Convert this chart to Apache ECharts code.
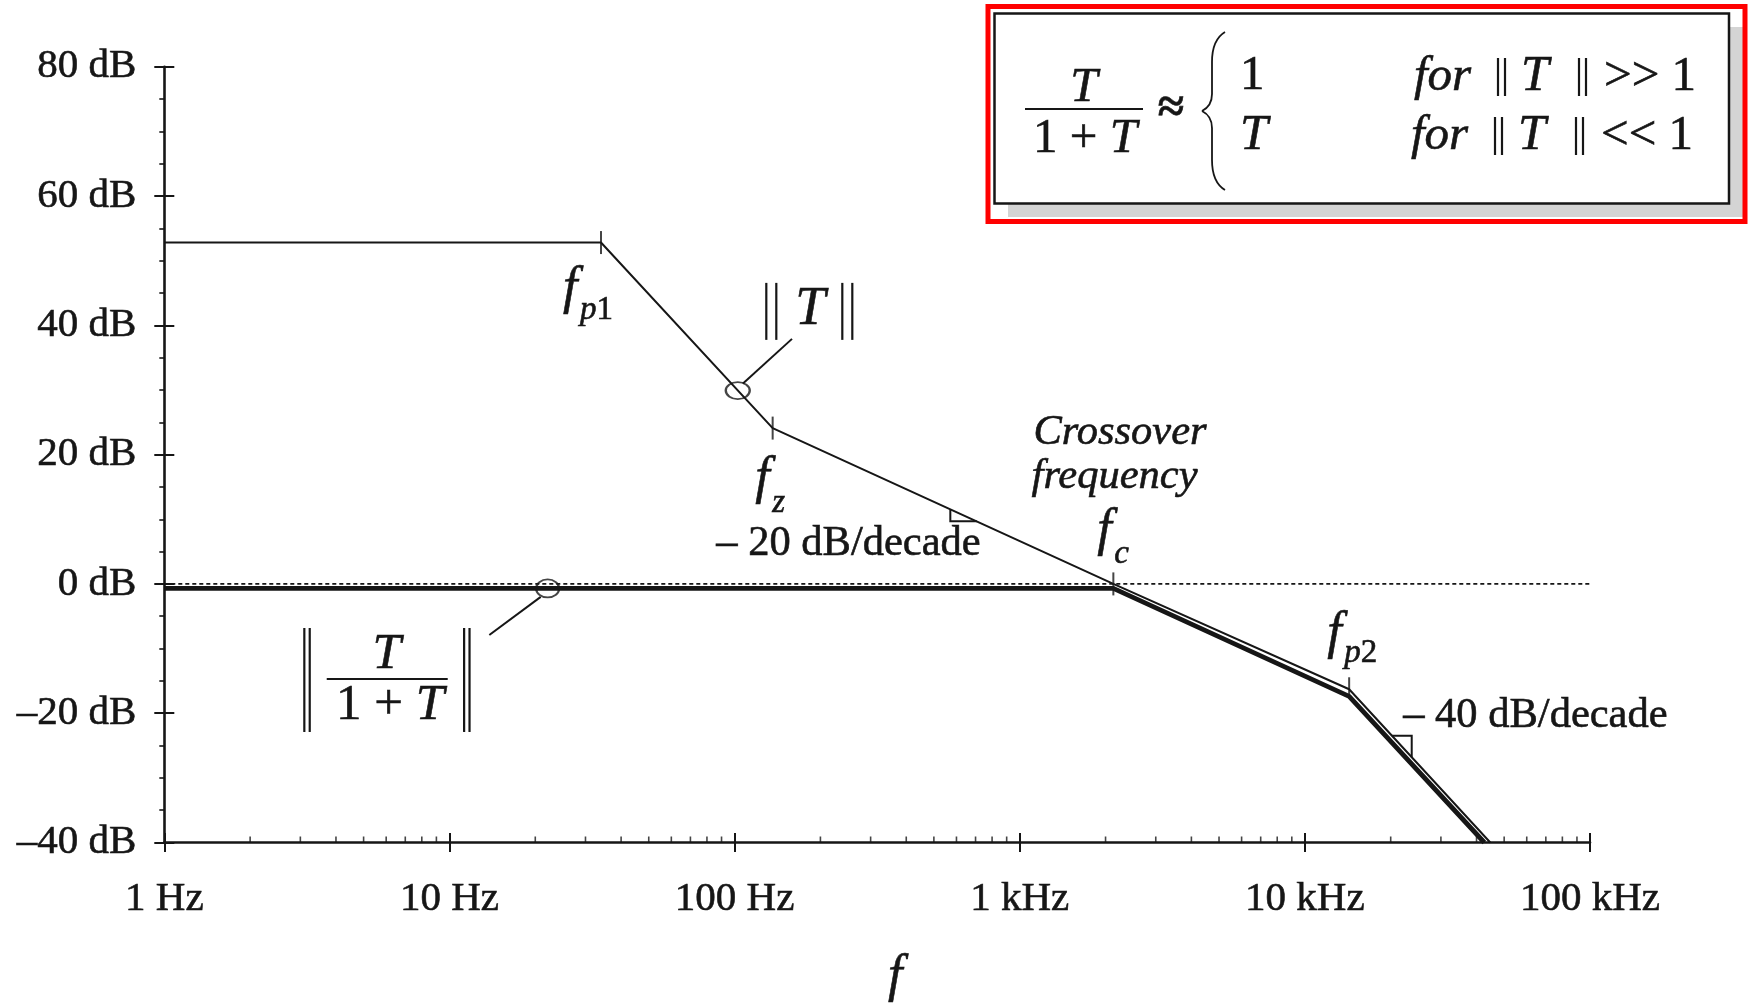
<!DOCTYPE html>
<html>
<head>
<meta charset="utf-8">
<script src="https://cdn.jsdelivr.net/npm/echarts@6/dist/echarts.min.js"></script>
<style>
  html, body { margin: 0; padding: 0; background: #fff; overflow: hidden; }
  #chart { width: 1748px; height: 1003px; }
</style>
</head>
<body>
<div id="chart"></div>
<script>
// Loop gain ||T|| asymptotes (thin line): frequency in Hz, magnitude in dB
const loopFreq = [1, 34, 136, 2130, 14300, 44700];
const loopGain = [52.8, 52.8, 24.1, 0, -16.3, -40];

// Closed-loop ||T/(1+T)|| asymptotes (heavy line)
const closedFreq = [1, 2130, 14300, 42600];
const closedGain = [-0.7, -0.7, -17.4, -40];

// Unity (0 dB) reference line
const unityFreq = [1, 100000];
const unityGain = [0, 0];

// Corner frequencies fp1, fz, fc, fp2 marked with a short tick on ||T||
const cornerFreq = [34, 136, 2130, 14300];
const cornerGain = [52.8, 24.1, 0, -16.3];

// Ellipse callouts on each curve and their leader lines
const loopCalloutFreq = [102.6];
const loopCalloutGain = [29.9];
const loopLeaderFreq = [107, 159];
const loopLeaderGain = [31.0, 37.9];
const closedCalloutFreq = [22.1];
const closedCalloutGain = [-0.7];
const closedLeaderFreq = [20.9, 13.8];
const closedLeaderGain = [-2.0, -7.9];

// Slope indicators
const slope20Freq = [571, 571, 707];
const slope20Gain = [11.5, 9.7, 9.7];
const slope40Freq = [20200, 23700, 23700];
const slope40Gain = [-23.5, -23.5, -26.8];

// Axis tick labels
const freqTickLabels = ['1 Hz', '10 Hz', '100 Hz', '1 kHz', '10 kHz', '100 kHz'];
const gainTicks = [-40, -20, 0, 20, 40, 60, 80];
const gainTickLabels = ['\u201340 dB', '\u201320 dB', '0 dB', '20 dB', '40 dB', '60 dB', '80 dB'];

const FONT = '"Liberation Serif", "Times New Roman", "DejaVu Serif", serif';
const INK = '#161616';
const EMBOLDEN = 0.6;
const pts = (fs, gs) => fs.map((f, i) => [f, gs[i]]);

// Minor log ticks at 2..9 within each decade
const minorFreq = [];
[1, 10, 100, 1000, 10000].forEach(d => { for (let k = 2; k <= 9; k++) minorFreq.push(d * k); });

const chart = echarts.init(document.getElementById('chart'), null, { renderer: 'canvas' });

const baseX = {
  type: 'log', logBase: 10, min: 1, max: 100000, position: 'bottom', offset: 0,
  splitLine: { show: false }, minorSplitLine: { show: false }
};
const baseY = {
  type: 'value', min: -40, max: 80, interval: 20, position: 'left', offset: 0,
  splitLine: { show: false }, minorSplitLine: { show: false }
};
const lineSeries = (data, width, extra) => Object.assign({
  type: 'line', data, symbol: 'none', showSymbol: false, silent: true, clip: false,
  xAxisIndex: 0, yAxisIndex: 0,
  lineStyle: { color: INK, width }
}, extra || {});

const option = {
  animation: false,
  backgroundColor: '#ffffff',
  grid: { left: 164.3, right: 158, top: 66.7, bottom: 160.5, outerBoundsMode: 'none', containLabel: false },
  xAxis: [
    Object.assign({}, baseX, {
      axisLine: { show: true, onZero: false, lineStyle: { color: INK, width: 2.6 } },
      axisTick: { show: true, inside: false, length: 9.5, lineStyle: { color: INK, width: 2 } },
      axisLabel: {
        show: true, margin: 36, fontFamily: FONT, fontSize: 41, color: INK,
        textBorderColor: INK, textBorderWidth: EMBOLDEN,
        formatter: v => freqTickLabels[Math.round(Math.log10(v))]
      }
    }),
    Object.assign({}, baseX, {
      axisLine: { show: false, onZero: false },
      axisTick: { show: true, inside: true, length: 9.5, lineStyle: { color: INK, width: 2 } },
      axisLabel: { show: false }
    })
  ],
  yAxis: [
    Object.assign({}, baseY, {
      axisLine: { show: true, onZero: false, lineStyle: { color: INK, width: 2.6 } },
      axisTick: { show: true, inside: false, length: 10, lineStyle: { color: INK, width: 2 } },
      minorTick: { show: true, splitNumber: 4, length: 5, lineStyle: { color: INK, width: 1.6 } },
      axisLabel: {
        show: true, margin: 28, fontFamily: FONT, fontSize: 41, color: INK,
        textBorderColor: INK, textBorderWidth: EMBOLDEN,
        formatter: v => gainTickLabels[gainTicks.indexOf(v)]
      }
    }),
    Object.assign({}, baseY, {
      axisLine: { show: false, onZero: false },
      axisTick: { show: true, inside: true, length: 10, lineStyle: { color: INK, width: 2 } },
      axisLabel: { show: false }
    })
  ],
  series: [
    lineSeries(pts(unityFreq, unityGain), 1.6, { lineStyle: { color: INK, width: 1.6, type: [4, 3] } }),
    lineSeries(pts(closedFreq, closedGain), 4.8),
    lineSeries(pts(loopFreq, loopGain), 2),
    lineSeries(pts(loopLeaderFreq, loopLeaderGain), 2),
    lineSeries(pts(closedLeaderFreq, closedLeaderGain), 2),
    lineSeries(pts(slope20Freq, slope20Gain), 2, { lineStyle: { color: INK, width: 2, join: 'miter' } }),
    lineSeries(pts(slope40Freq, slope40Gain), 2, { lineStyle: { color: INK, width: 2, join: 'miter' } }),
    {
      // corner-frequency ticks
      type: 'scatter', silent: true, clip: false, xAxisIndex: 0, yAxisIndex: 0,
      symbol: 'rect', symbolSize: [2, 23], itemStyle: { color: INK },
      data: pts(cornerFreq, cornerGain).map((p, i) => i === 3
        ? { value: p, symbolSize: [2, 20], symbolOffset: [0, -2] }
        : { value: p })
    },
    {
      // ellipse callouts
      type: 'scatter', silent: true, clip: false, xAxisIndex: 0, yAxisIndex: 0,
      symbol: 'circle',
      itemStyle: { color: 'rgba(0,0,0,0)', borderColor: INK, borderWidth: 2 },
      data: [
        ...pts(loopCalloutFreq, loopCalloutGain).map(p => ({ value: p, symbolSize: [24, 17] })),
        ...pts(closedCalloutFreq, closedCalloutGain).map(p => ({ value: p, symbolSize: [23, 18] }))
      ]
    },
    {
      // minor log ticks along the frequency axis
      type: 'scatter', silent: true, clip: false, xAxisIndex: 0, yAxisIndex: 0,
      symbol: 'rect', symbolSize: [1.6, 6], symbolOffset: [0, -3], itemStyle: { color: INK },
      data: minorFreq.map(f => [f, -40])
    }
  ]
};
chart.setOption(option);

// ---- annotations ----
const P = (f, g) => chart.convertToPixel({ xAxisIndex: 0, yAxisIndex: 0 }, [f, g]);
const G = [];
const richItalic = size => ({ i: { fontStyle: 'italic', fontFamily: FONT, fontSize: size, fill: INK, stroke: INK, lineWidth: EMBOLDEN } });
const text = (x, y, str, size, o = {}) => G.push({
  type: 'text', x, y, silent: true, z: 100,
  style: Object.assign({
    text: str, fontFamily: FONT, fontSize: size,
    fontStyle: o.italic ? 'italic' : 'normal', fontWeight: o.bold ? 'bold' : 'normal',
    fill: INK, stroke: INK, lineWidth: EMBOLDEN,
    align: o.align || 'left', verticalAlign: 'middle'
  }, o.rich ? { rich: o.rich } : {})
});
const seg = (x1, y1, x2, y2, w) => G.push({
  type: 'line', silent: true, z: 100,
  shape: { x1, y1, x2, y2 }, style: { stroke: INK, lineWidth: w || 2 }
});
const curve = (x1, y1, cpx1, cpy1, cpx2, cpy2, x2, y2) => G.push({
  type: 'bezierCurve', silent: true, z: 100,
  shape: { x1, y1, cpx1, cpy1, cpx2, cpy2, x2, y2 },
  style: { fill: null, stroke: INK, lineWidth: 1.8 }
});
// double norm bars "||" drawn as a pair of strokes
const norm = (x, yTop, yBot, gap, w) => { seg(x, yTop, x, yBot, w || 2.2); seg(x + gap, yTop, x + gap, yBot, w || 2.2); };

// corner labels: italic f with subscript
const cornerLayout = [
  { fdx: -38, fdy: 47, sdy: 68, sub: '{i|p}1' },
  { fdx: -17.5, fdy: 51, sdy: 75, sub: '{i|z}' },
  { fdx: -16, fdy: -53, sdy: -30, sub: '{i|c}' },
  { fdx: -22, fdy: -55, sdy: -36, sub: '{i|p}2' }
];
cornerFreq.forEach((f, i) => {
  const [x, y] = P(f, cornerGain[i]);
  const L = cornerLayout[i];
  text(x + L.fdx, y + L.fdy, 'f', 52, { italic: true });
  text(x + L.fdx + 17, y + L.sdy, L.sub, 33, { rich: richItalic(33) });
});

// ||T|| label at the end of its leader
{
  const [x, y] = P(loopLeaderFreq[1], loopLeaderGain[1]);
  norm(x - 25.7, y - 56, y + 1, 10);
  text(x + 18.3, y - 29.5, 'T', 54, { italic: true, align: 'center' });
  norm(x + 50.3, y - 56, y + 1, 10);
}

// ||T/(1+T)|| label at the end of its leader
{
  const [x, y] = P(closedLeaderFreq[1], closedLeaderGain[1]);
  norm(x - 185, y - 7, y + 97, 5.4);
  norm(x - 25.2, y - 7, y + 97, 5.4);
  text(x - 102.6, y + 20, 'T', 51, { italic: true, align: 'center' });
  seg(x - 162.6, y + 44, x - 41.6, y + 44, 2);
  text(x - 99.3, y + 70.5, '1 + {i|T}', 51, { align: 'center', rich: richItalic(51) });
}

// crossover annotation
{
  const [x, y] = P(cornerFreq[2], cornerGain[2]);
  text(x + 6.7, y - 150.7, 'Crossover', 42.5, { italic: true, align: 'center' });
  text(x + 1.2, y - 107, 'frequency', 42.5, { italic: true, align: 'center' });
}

// slope labels
{
  const [x, y] = P(slope20Freq[1], slope20Gain[1]);
  text(x - 234, y + 22.3, '\u2013 20 dB/decade', 42.5);
}
{
  const [x, y] = P(slope40Freq[0], slope40Gain[0]);
  text(x + 11.3, y - 20.2, '\u2013 40 dB/decade', 42.5);
}

// frequency axis title
{
  const [x, y] = P(Math.sqrt(100000), -40);
  text(x + 18, y + 135, 'f', 52, { italic: true, align: 'center' });
}

// boxed approximation formula
G.push({ type: 'rect', silent: true, z: 90, shape: { x: 1008, y: 27, width: 735, height: 190 }, style: { fill: '#d4d4d4' } });
G.push({ type: 'rect', silent: true, z: 91, shape: { x: 994.5, y: 13.5, width: 734.5, height: 190 }, style: { fill: '#ffffff', stroke: INK, lineWidth: 2.5 } });
G.push({ type: 'rect', silent: true, z: 92, shape: { x: 988, y: 6.5, width: 757, height: 215 }, style: { fill: null, stroke: '#ff0000', lineWidth: 5 } });
text(1084, 88, 'T', 49, { italic: true, align: 'center' });
seg(1025, 109, 1143, 109, 2);
text(1085, 139, '1 + {i|T}', 49, { align: 'center', rich: richItalic(49) });
text(1171, 110, '\u2248', 48, { bold: true, align: 'center' });
// left brace spanning both cases
curve(1225, 32, 1215, 38, 1212, 48, 1212, 62);
seg(1212, 62, 1212, 94, 1.8);
curve(1212, 94, 1212, 103, 1208, 108, 1202, 111);
curve(1202, 111, 1208, 114, 1212, 119, 1212, 128);
seg(1212, 128, 1212, 160, 1.8);
curve(1212, 160, 1212, 174, 1215, 184, 1225, 190);
// case 1
text(1240, 76, '1', 49);
text(1414, 77, 'for', 49, { italic: true });
norm(1498, 58, 96, 7);
text(1521, 77, 'T', 50, { italic: true });
norm(1579, 58, 96, 7);
text(1604, 77, '>> 1', 49);
// case 2
text(1240, 136, 'T', 50, { italic: true });
text(1411, 136, 'for', 49, { italic: true });
norm(1495, 117, 155, 7);
text(1518, 136, 'T', 50, { italic: true });
norm(1576, 117, 155, 7);
text(1601, 136, '<< 1', 49);

chart.setOption({ graphic: { elements: G } });
</script>
</body>
</html>
